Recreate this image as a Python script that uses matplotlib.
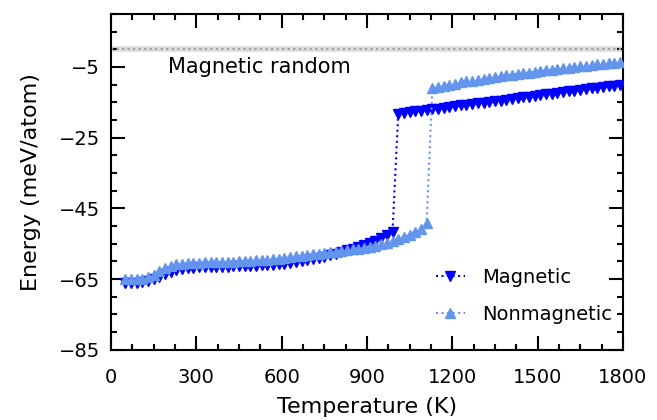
import numpy as np
import matplotlib
matplotlib.use("Agg")
import matplotlib.pyplot as plt
from matplotlib.ticker import MultipleLocator, AutoMinorLocator

# Temperature grid (K)
T = np.arange(50, 1800, 20)

# Magnetic: low branch (50-990 K) + high branch (1010-1790 K)
mag_low = [-66.1, -66.1, -66.0, -65.9, -65.6, -65.1, -64.4, -63.6, -62.9, -62.4,
           -62.1, -61.9, -61.8, -61.7, -61.7, -61.6, -61.6, -61.5, -61.5, -61.4,
           -61.4, -61.3, -61.3, -61.2, -61.1, -61.0, -60.9, -60.8, -60.6, -60.4,
           -60.2, -60.0, -59.7, -59.4, -59.1, -58.7, -58.3, -57.9, -57.4, -56.9,
           -56.4, -55.9, -55.4, -54.8, -54.2, -53.5, -52.6, -51.6]
mag_high = [-18.2, -18.0, -17.8, -17.6, -17.4, -17.2, -17.0, -16.8, -16.5, -16.3,
            -16.1, -15.9, -15.7, -15.5, -15.3, -15.1, -14.9, -14.7, -14.5, -14.3,
            -14.1, -13.9, -13.6, -13.4, -13.2, -13.0, -12.8, -12.6, -12.4, -12.2,
            -11.9, -11.7, -11.5, -11.3, -11.1, -10.9, -10.7, -10.5, -10.3, -10.1]

# Nonmagnetic: low branch (50-1110 K) + high branch (1130-1790 K)
nonmag_low = [-65.0, -65.0, -65.0, -64.9, -64.5, -63.7, -62.8, -61.9, -61.2, -60.8,
              -60.6, -60.5, -60.4, -60.4, -60.3, -60.3, -60.2, -60.2, -60.1, -60.1,
              -60.0, -59.9, -59.8, -59.7, -59.6, -59.5, -59.4, -59.2, -59.0, -58.8,
              -58.6, -58.4, -58.2, -58.0, -57.8, -57.6, -57.4, -57.2, -57.0, -56.8,
              -56.6, -56.4, -56.1, -55.8, -55.5, -55.1, -54.7, -54.2, -53.7, -53.1,
              -52.5, -51.8, -50.9, -49.2]
nonmag_high = [-11.0, -10.6, -10.3, -10.0, -9.7, -9.4, -9.1, -8.9, -8.6, -8.4,
               -8.1, -7.9, -7.7, -7.4, -7.2, -7.0, -6.8, -6.6, -6.4, -6.2,
               -6.0, -5.8, -5.6, -5.4, -5.2, -5.0, -4.8, -4.7, -4.5, -4.3,
               -4.1, -3.9, -3.8, -3.6]

magnetic = np.array(mag_low + mag_high)
nonmagnetic = np.array(nonmag_low + nonmag_high)

random_energy = 0.0
random_label = "Magnetic random"
series_labels = ["Magnetic", "Nonmagnetic"]

plt.rcParams['font.family'] = ['DejaVu Sans']
fig = plt.figure(figsize=(6.57, 4.2), dpi=100)
ax = fig.add_axes([0.169, 0.167, 0.779, 0.800])

ax.axhline(random_energy, color='#dcdcdc', lw=4, zorder=1)
ax.axhline(random_energy, color='#a0a0a0', lw=1.5, ls=':', zorder=2)
ax.text(200, -5, random_label, fontsize=15, va='center', ha='left')

ax.plot(T, magnetic, ls=':', lw=1.5, color='blue', marker='v', ms=7,
        label=series_labels[0], zorder=3)
ax.plot(T, nonmagnetic, ls=':', lw=1.5, color='cornflowerblue', marker='^', ms=7,
        label=series_labels[1], zorder=4)

ax.set_xlim(0, 1800)
ax.set_ylim(-85, 10)
ax.xaxis.set_major_locator(MultipleLocator(300))
ax.xaxis.set_minor_locator(AutoMinorLocator(4))
ax.set_yticks([-85, -65, -45, -25, -5])
ax.yaxis.set_minor_locator(MultipleLocator(5))

ax.tick_params(which='both', direction='in', top=True, right=True, labelsize=14, width=1.5)
ax.tick_params(which='major', length=10)
ax.tick_params(which='minor', length=4)
ax.tick_params(axis='y', which='major', pad=8)
ax.tick_params(axis='x', which='major', pad=13)
for s in ax.spines.values():
    s.set_linewidth(1.5)

ax.set_xlabel("Temperature (K)", fontsize=16, labelpad=7)
ax.set_ylabel("Energy (meV/atom)", fontsize=16, labelpad=13)

ax.legend(loc='lower right', bbox_to_anchor=(0.995, 0.055), borderaxespad=0,
          frameon=False, fontsize=14, handlelength=1.5, handletextpad=0.9,
          labelspacing=0.9, numpoints=1)

fig.savefig("out.png", dpi=100)
